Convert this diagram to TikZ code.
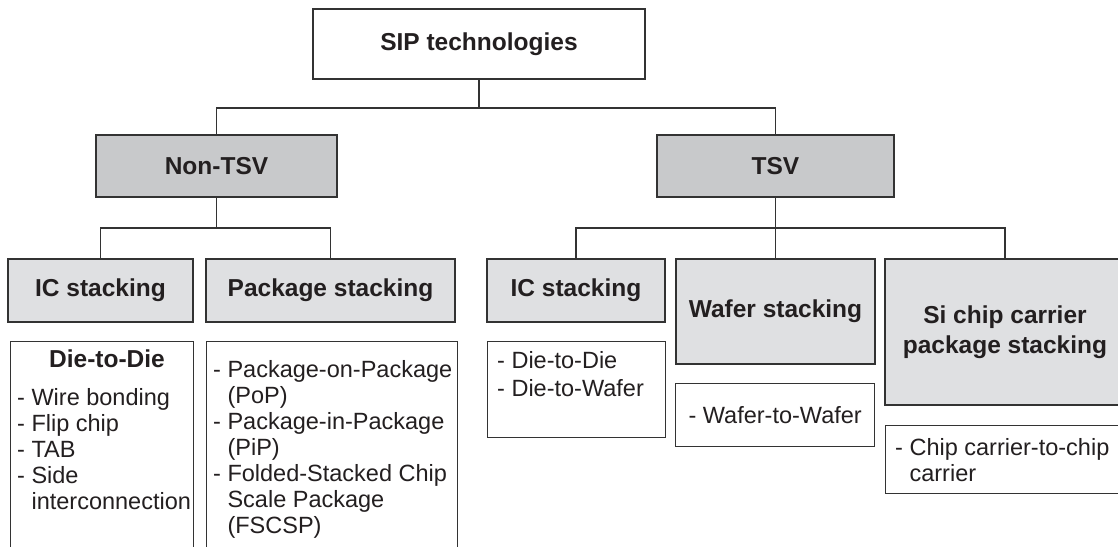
\documentclass[tikz,border=0pt]{standalone}
\usepackage{fontspec}
\setmainfont{Liberation Sans}
\usetikzlibrary{arrows}
\definecolor{darkfill}{RGB}{200,201,203}
\definecolor{lightfill}{RGB}{223,224,226}
\definecolor{linecol}{RGB}{51,51,51}
\definecolor{inkcol}{RGB}{35,31,32}

\begin{document}
\begin{tikzpicture}[x=1pt,y=-1pt]
      \tikzstyle{box} = [draw=linecol, line width=1.3pt, rectangle, inner sep=0pt, text=inkcol]
      \tikzstyle{topbox} = [box, fill=white, font=\bfseries\fontsize{24.5}{30}\selectfont]
      \tikzstyle{midbox} = [box, fill=darkfill, font=\bfseries\fontsize{24.5}{30}\selectfont]
      \tikzstyle{subbox} = [box, fill=lightfill, align=center, font=\bfseries\fontsize{24.5}{30}\selectfont]
      \tikzstyle{listbox} = [box, fill=white, font=\fontsize{23.5}{26}\selectfont]
      \tikzstyle{listtext} = [inner sep=0pt, align=left, text=inkcol, font=\fontsize{23.5}{26}\selectfont]
      \tikzstyle{conn} = [draw=linecol, line width=1.3pt]

      \useasboundingbox (0,0) rectangle (1118,546);
      \clip (0,0) rectangle (1118,546);

      % tree levels
      \node[topbox, minimum width=332, minimum height=70] (sip) at (479,44) {SIP technologies};
      \node[midbox, minimum width=241, minimum height=62] (nontsv) at (216.5,166) {Non-TSV};
      \node[midbox, minimum width=237, minimum height=62] (tsv) at (775.5,166) {TSV};

      \node[subbox, minimum width=185, minimum height=63] (icl) at (100.5,290.5) {IC stacking};
      \node[subbox, minimum width=249, minimum height=63] (pkg) at (330.5,290.5) {Package stacking};
      \node[subbox, minimum width=178, minimum height=63] (icr) at (576,290.5) {IC stacking};
      \node[subbox, minimum width=199, minimum height=105] (wafer) at (775.5,311.5) {Wafer stacking};
      \node[subbox, minimum width=240, minimum height=146] (sicc) at (1005,332) {Si chip carrier\\package stacking};

      % lists
      \node[listbox, anchor=north west, minimum width=183, minimum height=260] (ddl) at (10,341) {};
      \node[listbox, anchor=north west, minimum width=251, minimum height=260] (pkl) at (206,341) {};
      \node[listbox, anchor=north west, minimum width=178, minimum height=96] (ddr) at (487,341) {};
      \node[listbox, anchor=north west, minimum width=199, minimum height=63] (wwl) at (675,383) {- Wafer-to-Wafer};
      \node[listbox, anchor=north west, minimum width=240, minimum height=68] (ccl) at (885,425) {};

      \node[listtext, font=\bfseries\fontsize{24.5}{30}\selectfont, anchor=base] (ddlhead) at (107,367) {Die-to-Die};
      \node[listtext, anchor=north west] (ddltxt) at (17,388) {- Wire bonding\\- Flip chip\\- TAB\\- Side\\\phantom{- }interconnection};
      \node[listtext, anchor=north west] (pkltxt) at (213,360) {- Package-on-Package\\\phantom{- }(PoP)\\- Package-in-Package\\\phantom{- }(PiP)\\- Folded-Stacked Chip\\\phantom{- }Scale Package\\\phantom{- }(FSCSP)};
      \node[listtext, anchor=north west] (ddrtxt) at (497,351) {- Die-to-Die\\[2pt]- Die-to-Wafer};
      \node[listtext, anchor=west] (ccltxt) at ([xshift=10pt]ccl.west) {- Chip carrier-to-chip\\\phantom{- }carrier};

      % connectors
      \coordinate (j0) at (479,108);
      \coordinate (j1) at (216.5,228);
      \coordinate (j2) at (775.5,228);
      \draw[conn] (sip) -- (j0);
      \draw[conn] (nontsv.north) |- (j0) -| (tsv.north);
      \draw[conn] (nontsv) -- (j1);
      \draw[conn] (icl.north) |- (j1) -| (pkg.north);
      \draw[conn] (tsv) -- (j2);
      \draw[conn] (icr.north) |- (j2) -| (sicc.north);
      \draw[conn] (j2) -- (wafer.north);
    \end{tikzpicture}
\end{document}
